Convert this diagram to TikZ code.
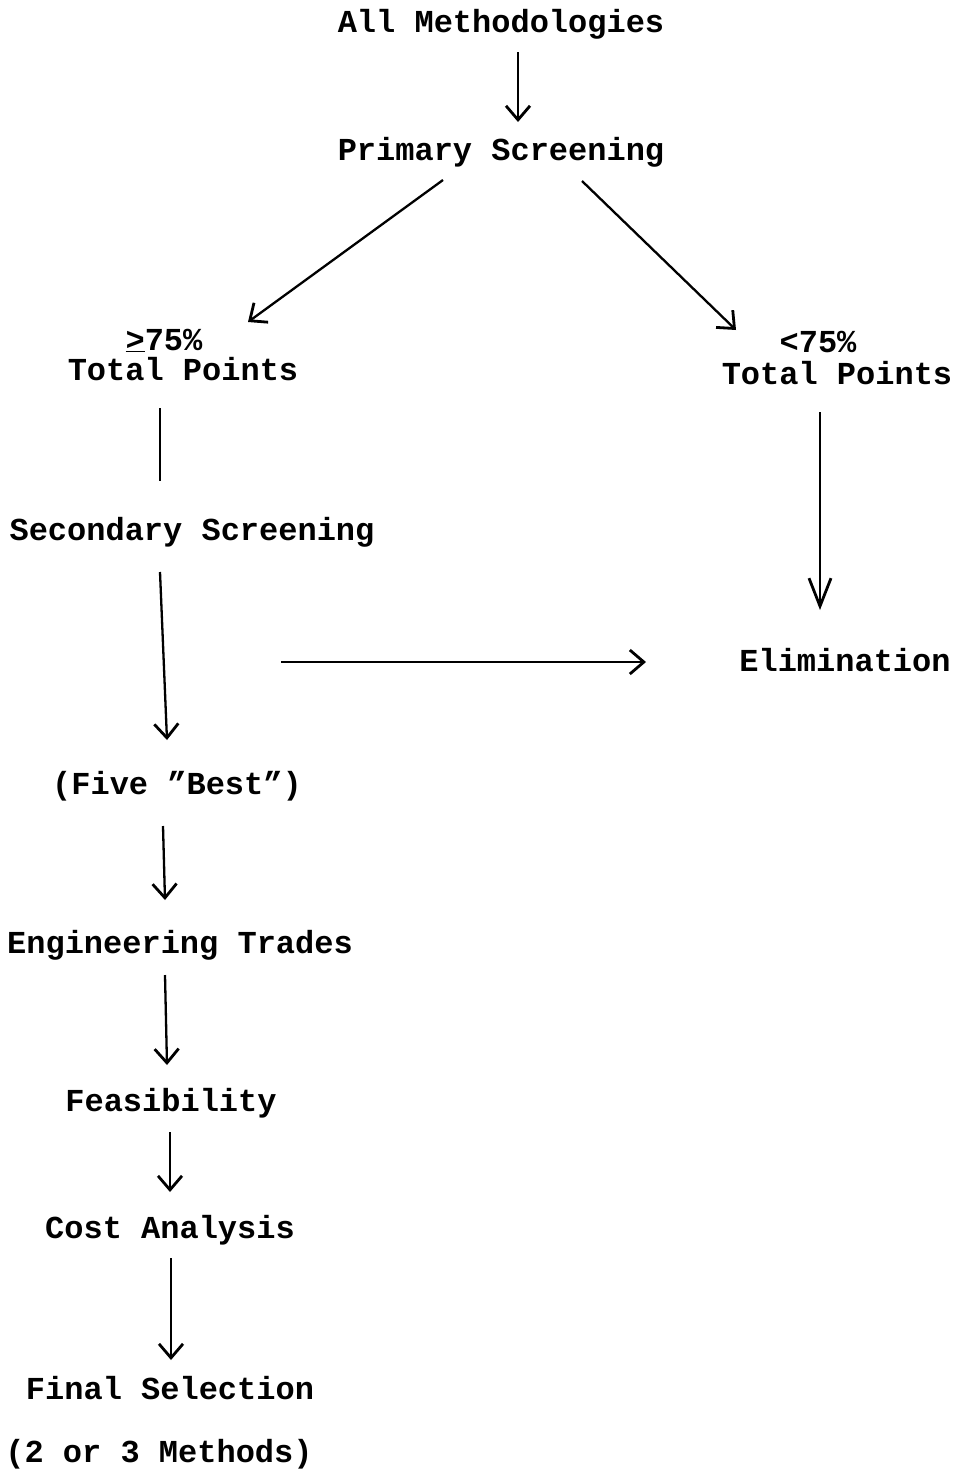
\documentclass[tikz,border=0pt]{standalone}
\usepackage{fontspec}
\setmainfont[Ligatures=ResetAll]{Liberation Mono}
\usetikzlibrary{arrows.meta,calc}
\begin{document}
\begin{tikzpicture}[x=1pt,y=-1pt,
  lbl/.style={anchor=base,inner sep=0pt,font=\fontsize{32}{36}\selectfont\bfseries},
  arr/.style={line width=2.3pt,-{Straight Barb[length=14pt,width=24pt,line width=2.8pt]}},
  bigarr/.style={line width=2.3pt,-{Straight Barb[length=28pt,width=22pt,line width=2.8pt]}},
  plain/.style={line width=2.3pt}]
\useasboundingbox (0,0) rectangle (961,1470);
\node[lbl] (all) at (501,32) {All Methodologies};
\node[lbl] (prim) at (501,160) {Primary Screening};
\node[lbl] (pa) at (164,350) {\underline{>}75\%};
\node[lbl] (ta) at (183,380) {Total Points};
\node[lbl] (pb) at (818,352) {<75\%};
\node[lbl] (tb) at (837,384) {Total Points};
\node[lbl] (sec) at (192,540) {Secondary Screening};
\node[lbl] (elim) at (845,671) {Elimination};
\node[lbl] (five) at (177,794) {(Five \symbol{34}Best\symbol{34})};
\node[lbl] (eng) at (180,953) {Engineering Trades};
\node[lbl] (feas) at (171,1111) {Feasibility};
\node[lbl] (cost) at (170,1238) {Cost Analysis};
\node[lbl] (fin) at (170,1399) {Final Selection};
\node[lbl] (meth) at (159,1462) {(2 or 3 Methods)};

\draw[arr] ($(all.base)+(17,20)$) -- ($(prim.base)+(17,-38)$);
\draw[arr] ($(prim.base)+(-58,20)$) -- ($(pa.base)+(84,-28)$);
\draw[arr] ($(prim.base)+(81,21)$) -- ($(pb.base)+(-82,-22)$);
\draw[plain] ($(ta.base)+(-23,28)$) -- ($(sec.base)+(-32,-59)$);
\draw[arr] ($(sec.base)+(-32,32)$) -- ($(five.base)+(-10,-54)$);
\draw[arr] ($(sec.base)+(89,122)$) -- ($(elim.base)+(-199,-9)$);
\draw[bigarr] ($(tb.base)+(-17,28)$) -- ($(elim.base)+(-25,-61)$);
\draw[arr] ($(five.base)+(-14,32)$) -- ($(eng.base)+(-15,-53)$);
\draw[arr] ($(eng.base)+(-15,22)$) -- ($(feas.base)+(-4,-46)$);
\draw[arr] ($(feas.base)+(-1,21)$) -- ($(cost.base)+(0,-46)$);
\draw[arr] ($(cost.base)+(1,20)$) -- ($(fin.base)+(1,-39)$);
\end{tikzpicture}
\end{document}
